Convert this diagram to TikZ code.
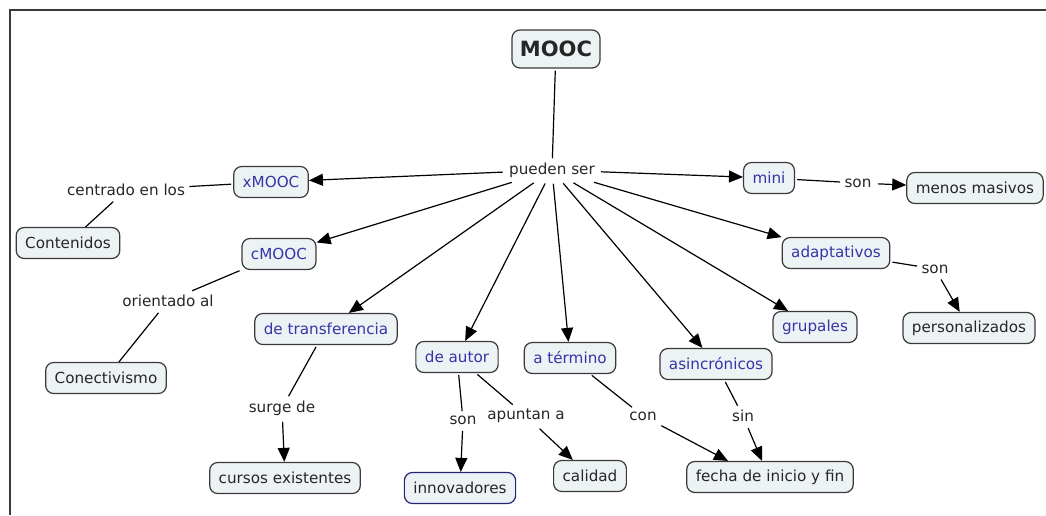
\documentclass[tikz,border=0pt]{standalone}
\usepackage{fontspec}
\setsansfont{DejaVu Sans}
\usepackage{xcolor}
\usetikzlibrary{arrows.meta}
\definecolor{cfill}{HTML}{EDF2F4}
\definecolor{cblue}{HTML}{3535A8}
\definecolor{cline}{HTML}{3A3A3A}

\begin{document}
\begin{tikzpicture}[x=0.5pt, y=-0.5pt,
  font=\sffamily\fontsize{7.6}{9}\selectfont,
  concept/.style={draw=cline, fill=cfill, rounded corners=4pt, line width=0.6pt, minimum height=15.5pt, inner xsep=4.5pt, text=black!85},
  sub/.style={concept, text=cblue},
  link/.style={inner sep=2pt, text=black!85},
  ln/.style={line width=0.6pt, shorten <=1pt},
  arr/.style={ln, -{Triangle[length=7pt,width=6pt]}}
]
\useasboundingbox (0,0) rectangle (1046,515);
\draw[cline, line width=1pt] (10,515) -- (10,10) -- (1046,10);

% main concept and the links below it
\node[concept, font=\sffamily\bfseries\fontsize{10.5}{12}\selectfont, minimum height=19pt, inner xsep=4pt] (mooc) at (556,49) {MOOC};
\node[link] (ps) at (552,170) {pueden ser};

\node[sub] (xmooc) at (271,182) {xMOOC};
\node[sub] (cmooc) at (279,254) {cMOOC};
\node[sub] (transf) at (326,329) {de transferencia};
\node[sub] (autor) at (457,357) {de autor};
\node[sub] (termino) at (570,358) {a término};
\node[sub] (asinc) at (716,364) {asincrónicos};
\node[sub] (grup) at (815,327) {grupales};
\node[sub] (adapt) at (836,253) {adaptativos};
\node[sub] (mini) at (769,178) {mini};

\node[link] (centr) at (126,190) {centrado en los};
\node[concept] (cont) at (68,243) {Contenidos};
\node[link] (orient) at (168,301) {orientado al};
\node[concept] (conect) at (106,378) {Conectivismo};
\node[link] (surge) at (282,408) {surge de};
\node[concept] (cursos) at (285,478) {cursos existentes};
\node[link] (son1) at (463,420) {son};
\node[link] (apunt) at (526,416) {apuntan a};
\node[concept, draw=cblue!70!black] (innov) at (460,488) {innovadores};
\node[concept] (cal) at (590,476) {calidad};
\node[link] (con) at (643,416) {con};
\node[link] (sin) at (743,416) {sin};
\node[concept] (fecha) at (770,477) {fecha de inicio y fin};
\node[link] (son2) at (858,183) {son};
\node[concept] (menos) at (975,188) {menos masivos};
\node[link] (son3) at (935,269) {son};
\node[concept] (pers) at (969,328) {personalizados};

\draw[ln] (mooc) -- (ps);
\foreach \t in {xmooc,cmooc,transf,autor,termino,asinc,grup,adapt,mini}
  \draw[arr] (ps) -- (\t);

\draw[ln] (xmooc) -- (centr);
\draw[ln] (centr) -- (cont);
\draw[ln] (cmooc) -- (orient);
\draw[ln] (orient) -- (conect);
\draw[ln] (transf) -- (surge);
\draw[arr] (surge) -- (cursos);
\draw[ln] (autor) -- (son1);
\draw[arr] (son1) -- (innov);
\draw[ln] (autor) -- (apunt);
\draw[arr] (apunt) -- (cal);
\draw[ln] (termino) -- (con);
\draw[arr] (con) -- ([xshift=-21pt]fecha.north);
\draw[ln] (asinc) -- (sin);
\draw[arr] (sin) -- ([xshift=-4pt]fecha.north);
\draw[ln] (mini) -- (son2);
\draw[arr] (son2) -- (menos);
\draw[ln] (adapt) -- (son3);
\draw[arr] (son3) -- (pers);
\end{tikzpicture}
\end{document}
